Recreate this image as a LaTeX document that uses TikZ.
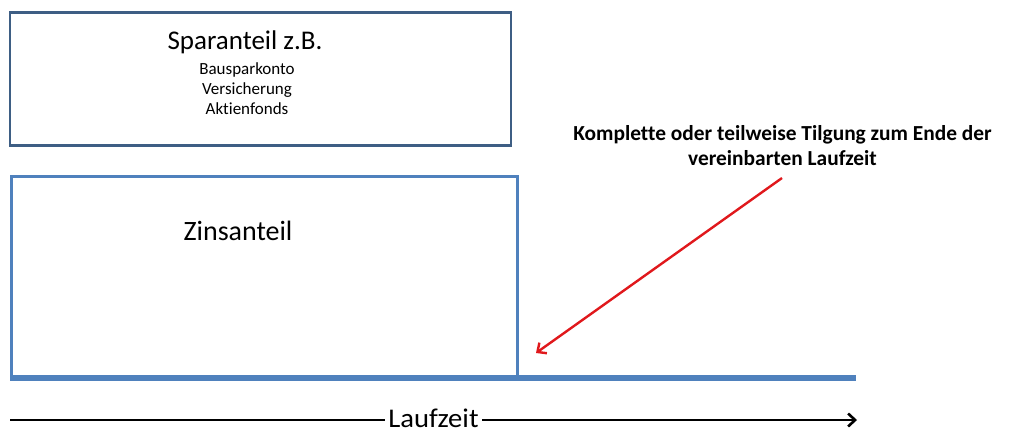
\documentclass[tikz,border=0pt]{standalone}
\usepackage{fontspec}
\setmainfont{Carlito}[Ligatures=NoCommon]
\usetikzlibrary{arrows.meta}
\definecolor{boxdark}{HTML}{3E5E84}
\definecolor{boxblue}{HTML}{4F81BD}
\definecolor{arrred}{HTML}{E0181C}
\tikzset{
  bigtxt/.style={font=\fontsize{27}{32}\selectfont, inner sep=0pt, anchor=base},
  smalltxt/.style={font=\fontsize{17}{20}\selectfont, inner sep=0pt, anchor=base},
  notetxt/.style={font=\bfseries\fontsize{21.4}{25.5}\selectfont, align=center, inner sep=0pt, anchor=base},
  barb/.style={-{Straight Barb[length=7pt,width=13pt,line width=2.4pt]}}
}
\begin{document}
\begin{tikzpicture}[x=1pt,y=-1pt]
\useasboundingbox (0,0) rectangle (1016,432);
% top box
\draw[boxdark, line width=2.7pt] (10,12.5) rectangle (511,145.5);
\node[bigtxt] (spar) at (245,49.5) {Sparanteil z.B.};
\node[smalltxt] (item1) at (247,74) {Bausparkonto};
\node[smalltxt] (item2) at (247,94) {Versicherung};
\node[smalltxt] (item3) at (247,114) {Aktienfonds};
% Zinsanteil box
\draw[boxblue, line width=3pt] (11.5,377) -- (11.5,176) -- (517,176) -- (517,377);
\node[bigtxt, font=\fontsize{28}{32}\selectfont] (zins) at (238,240.7) {Zinsanteil};
% baseline
\draw[boxblue, line width=6.5pt] (10,378) -- (856,378);
% note
\node[notetxt] (note1) at (782.5,140) {Komplette oder teilweise Tilgung zum Ende der};
\node[notetxt] (note2) at (782.5,165.5) {vereinbarten Laufzeit};
\coordinate (rs) at (782,178);
\coordinate (re) at (536,353);
\draw[arrred, line width=2.4pt, barb] (rs) -- (re);
% Laufzeit arrow
\coordinate (ls) at (10,420);
\coordinate (le) at (857,420);
\draw[black, line width=2.6pt, -{Straight Barb[length=7pt,width=13pt,line width=2.6pt]}] (ls) -- (le);
\node[font=\fontsize{27}{30}\selectfont\addfontfeatures{FakeStretch=1.06}, fill=white, inner xsep=3pt, inner ysep=0pt, anchor=base] (lauf) at (433.5,427) {Laufzeit};
\end{tikzpicture}
\end{document}
